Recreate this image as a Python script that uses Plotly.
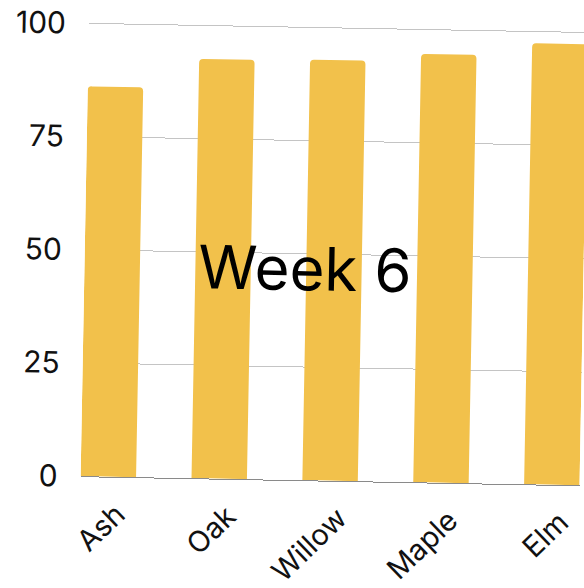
import plotly.graph_objects as go

categories = ["Ash", "Oak", "Willow", "Maple", "Elm"]
values = [86.1, 92.6, 92.9, 94.6, 97.4]
y_ticks = [0, 25, 50, 75, 100]
title_text = "Week 6"

bar_color = "#F2C14B"
font_family = "Inter, Lato, sans-serif"

fig = go.Figure(
    go.Bar(
        x=categories,
        y=values,
        marker=dict(color=bar_color, line=dict(width=0)),
        width=0.5,
    )
)

fig.update_layout(
    width=584,
    height=588,
    margin=dict(l=84, r=1, t=26, b=108),
    paper_bgcolor="white",
    plot_bgcolor="white",
    showlegend=False,
    barcornerradius=4,
    font=dict(family=font_family, color="#111111"),
    xaxis=dict(
        range=[-0.25, 4.25],
        automargin=False,
        showgrid=False,
        showline=True,
        linecolor="#8a8a8a",
        linewidth=1,
        tickangle=-45,
        tickfont=dict(size=29, family=font_family, color="#111111"),
        ticks="",
        ticklabelstandoff=8,
        ticklabelshift=9,
        zeroline=False,
    ),
    yaxis=dict(
        range=[0, 100.25],
        automargin=False,
        tickvals=y_ticks,
        showgrid=True,
        gridcolor="#c4c4c4",
        gridwidth=1,
        zeroline=False,
        ticks="",
        ticklabelstandoff=22,
        tickfont=dict(size=30, family=font_family, color="#111111"),
    ),
    annotations=[
        dict(
            text=title_text,
            xref="paper",
            yref="paper",
            x=0.441,
            y=0.467,
            xanchor="center",
            yanchor="middle",
            showarrow=False,
            font=dict(size=60, family=font_family, color="#000000"),
        )
    ],
)

post = """
var gd = document.getElementById('{plot_id}');
gd.style.transformOrigin = '50% 50%';
gd.style.transform = 'rotate(1.05deg)';
document.body.style.margin = '0';
document.body.style.overflow = 'hidden';
"""

fig.write_html("out.html", post_script=post)
